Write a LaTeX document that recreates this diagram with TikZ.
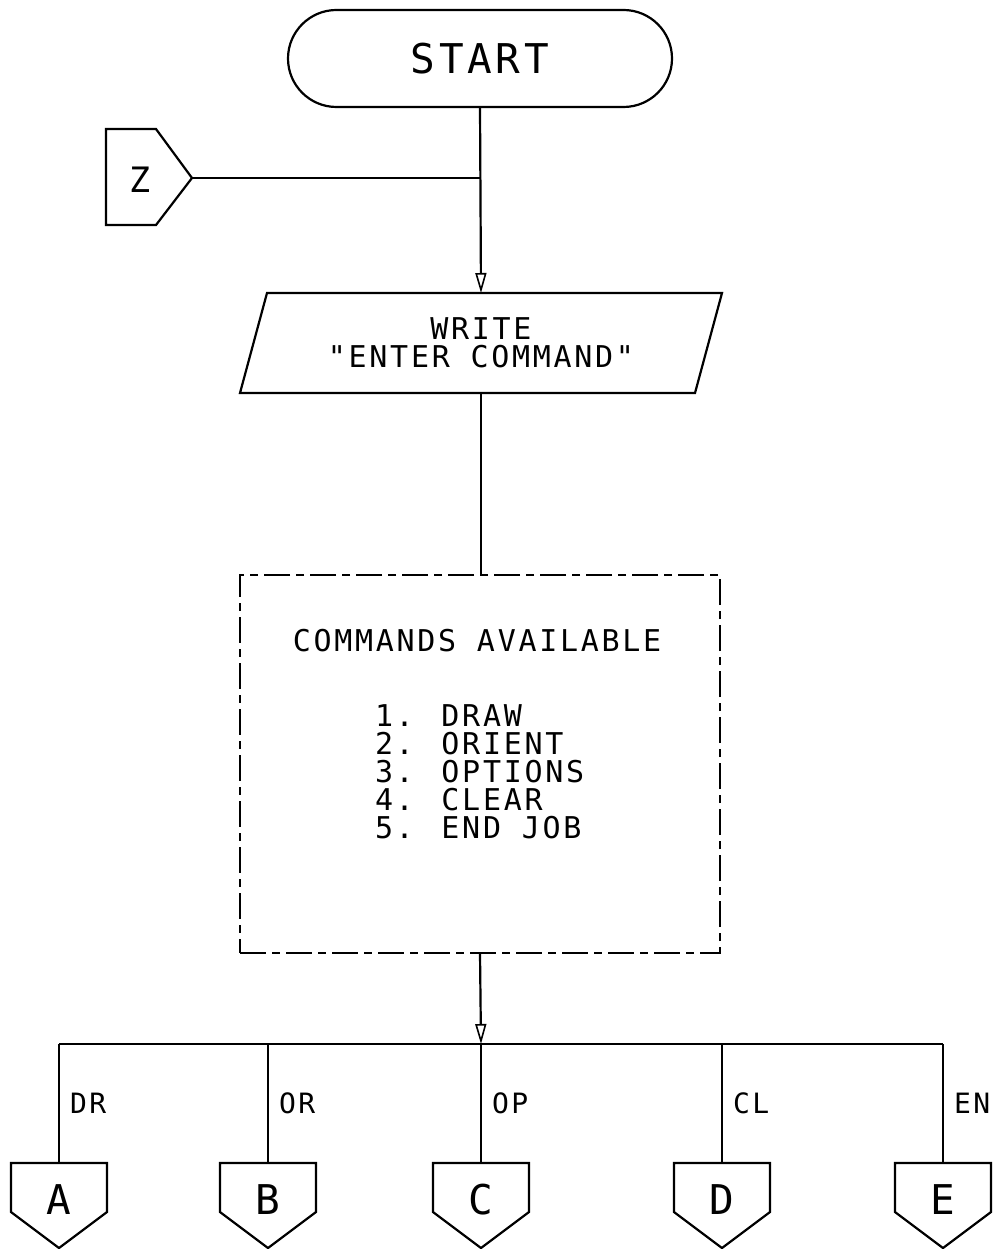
\documentclass[tikz,border=0pt]{standalone}
\usepackage{fontspec}
\newfontfamily\plotfont[LetterSpace=9]{DejaVu Sans Mono}
\usetikzlibrary{arrows.meta,shapes.misc}

\tikzset{
  tip/.style={-{Triangle[open,length=20pt,width=11pt,line width=1.6pt]}},
  dashbox/.style={draw,dash pattern=on 26pt off 6pt on 8pt off 6pt},
  txt/.style={font=\plotfont\fontsize{30}{28}\selectfont},
  big/.style={font=\plotfont\fontsize{41}{41}\selectfont},
  lab/.style={font=\plotfont\fontsize{28}{28}\selectfont,anchor=west}
}

\begin{document}
\begin{tikzpicture}[x=1pt,y=-1pt,line width=2.2pt,every node/.style={inner sep=0pt,outer sep=0pt}]
\useasboundingbox (0,0) rectangle (995,1249);
\node[draw,rounded rectangle,minimum width=384pt,minimum height=97pt,big] (start) at (480,58.5) {START};
\draw (106,129) -- (156,129) -- (192,178) -- (156,225) -- (106,225) -- cycle;
\node[font=\plotfont\fontsize{35}{35}\selectfont] (z) at (140,180) {Z};
\coordinate (zout) at (192,178);
\draw (zout) -- (zout -| start.south);
\draw (267,293) -- (722,293) -- (695,393) -- (240,393) -- cycle;
\node[txt,align=center,minimum width=400pt,minimum height=100pt] (write) at (481,343) {WRITE\\"ENTER COMMAND"};
\draw[tip] (start.south) -- (write.north);
\node[dashbox,minimum width=480pt,minimum height=378pt] (cmds) at (480,764) {};
\draw (write.south) -- (write.south |- cmds.north);
\node[txt] (avail) at (477,641) {COMMANDS AVAILABLE};
\node[txt,align=left,anchor=west] (list) at (375,772) {1. DRAW\\2. ORIENT\\3. OPTIONS\\4. CLEAR\\5. END JOB};
\coordinate (bus) at (481,1044);
\draw[tip] (cmds.south) -- (bus);
\foreach \x/\ch/\br in {59/A/DR,268/B/OR,481/C/OP,722/D/CL,943/E/EN} {
  \draw (\x-48,1163) -- (\x+48,1163) -- (\x+48,1212) -- (\x,1248) -- (\x-48,1212) -- cycle;
  \node[big] (off\ch) at (\x,1200) {\ch};
  \coordinate (top\ch) at (\x,1163);
  \draw (top\ch |- bus) -- (top\ch) node[lab,midway,xshift=11pt] (br\ch) {\br};
}
\draw (topA |- bus) -- (topE |- bus);
\end{tikzpicture}
\end{document}
